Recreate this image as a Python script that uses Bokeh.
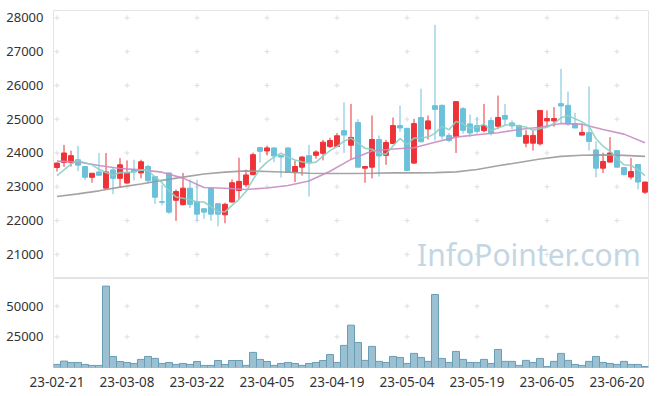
import numpy as np
from bokeh.plotting import figure
from bokeh.models import ColumnDataSource, FixedTicker, Label, Range1d
from bokeh.layouts import column
from bokeh.embed import file_html
from bokeh.resources import INLINE

dates = ["23-02-21", "23-02-22", "23-02-23", "23-02-24", "23-02-27", "23-02-28",
         "23-03-02", "23-03-03", "23-03-06", "23-03-07", "23-03-08", "23-03-09", "23-03-10",
         "23-03-13", "23-03-14", "23-03-15", "23-03-16", "23-03-17", "23-03-20", "23-03-21",
         "23-03-22", "23-03-23", "23-03-24", "23-03-27", "23-03-28", "23-03-29", "23-03-30",
         "23-03-31", "23-04-03", "23-04-04", "23-04-05", "23-04-06", "23-04-07", "23-04-10",
         "23-04-11", "23-04-12", "23-04-13", "23-04-14", "23-04-17", "23-04-18", "23-04-19",
         "23-04-20", "23-04-21", "23-04-24", "23-04-25", "23-04-26", "23-04-27", "23-04-28",
         "23-05-02", "23-05-03", "23-05-04", "23-05-08", "23-05-09", "23-05-10", "23-05-11",
         "23-05-12", "23-05-15", "23-05-16", "23-05-17", "23-05-18", "23-05-19", "23-05-22",
         "23-05-23", "23-05-24", "23-05-25", "23-05-26", "23-05-30", "23-05-31", "23-06-01",
         "23-06-02", "23-06-05", "23-06-07", "23-06-08", "23-06-09", "23-06-12", "23-06-13",
         "23-06-14", "23-06-15", "23-06-16", "23-06-19", "23-06-20", "23-06-21", "23-06-22",
         "23-06-23", "23-06-26"]

opens = [23570, 23720, 23720, 23800, 23600, 23280, 23440, 22960, 23500, 23250,
         23110, 23500, 23410, 23600, 23300, 22560, 23410, 22600, 22470, 22960,
         22560, 22350, 22950, 22500, 22170, 22550, 22890, 23060, 23360, 24160,
         24060, 24150, 23920, 24150, 23430, 23580, 23920, 23930, 23990, 24190,
         24190, 24660, 24230, 24900, 23550, 23580, 24400, 23930, 24280, 24810,
         24730, 23700, 25050, 24710, 25400, 25410, 24520, 24490, 25310, 24860,
         24810, 24660, 24960, 24790, 25110, 24890, 24810, 24290, 24290, 24270,
         24950, 24950, 25460, 25410, 24860, 24530, 24600, 24090, 23550, 23730,
         24070, 23570, 23290, 23660, 22840]
highs = [23720, 24240, 24070, 24210, 23600, 23410, 24000, 24000, 23550, 23850,
         23780, 23800, 23800, 23650, 23300, 23060, 23420, 22920, 23410, 23220,
         23210, 22350, 22960, 22500, 22530, 23220, 23860, 23510, 24010, 24170,
         24220, 24160, 23930, 24160, 23780, 23900, 24240, 24080, 24390, 24450,
         24590, 25500, 25450, 25000, 23610, 25110, 24520, 24390, 25050, 25400,
         24740, 25010, 25900, 25110, 27790, 25430, 24590, 25530, 25360, 25140,
         25060, 25450, 25060, 25700, 25450, 24960, 24840, 24670, 24670, 25270,
         25260, 25360, 26490, 25820, 25190, 24860, 25970, 24340, 24010, 24470,
         24080, 23570, 23850, 23660, 23150]
lows = [23450, 23590, 23600, 23460, 23200, 23120, 23330, 22930, 22780, 22980,
        23090, 23190, 23250, 23100, 22490, 22450, 22200, 21990, 22450, 22370,
        21990, 22050, 21990, 21830, 21920, 22530, 22640, 22990, 23340, 23720,
        23930, 23730, 23270, 23420, 23140, 23330, 22710, 23830, 23780, 24150,
        24180, 24000, 23810, 23570, 23120, 23250, 23300, 23650, 24270, 24620,
        23470, 23680, 24320, 24400, 24370, 24400, 24320, 24000, 24570, 24470,
        24570, 24610, 24520, 24710, 24810, 24700, 24480, 24170, 24070, 24220,
        24760, 24780, 24860, 24800, 24730, 24520, 24070, 23280, 23410, 23720,
        23570, 23340, 23220, 22920, 22790]
closes = [23700, 24000, 23920, 23640, 23280, 23400, 23340, 23440, 23250, 23650,
          23420, 23440, 23740, 23180, 22690, 22540, 22250, 22860, 22960, 22480,
          22190, 22250, 22190, 22190, 22480, 23120, 23160, 23350, 23950, 24050,
          24150, 23910, 23880, 23430, 23600, 23880, 23730, 24030, 24320, 24370,
          24510, 24530, 24460, 23580, 23600, 24400, 23910, 24310, 24810, 24740,
          23480, 24870, 24330, 24950, 25290, 24500, 24370, 25520, 24670, 24590,
          24640, 24810, 24590, 25050, 25000, 24800, 24490, 24520, 24520, 25260,
          25020, 25020, 25390, 24860, 24740, 24610, 24340, 23550, 23750, 24000,
          23580, 23360, 23450, 23140, 23140]
volumes = [2500, 5200, 4100, 4100, 2500, 1700, 1700, 66300, 9000, 4900,
           4100, 3300, 6600, 9000, 7400, 3300, 4100, 2500, 3300, 2500,
           4900, 1700, 1700, 5700, 2500, 5700, 5700, 1700, 12300, 6600,
           4900, 1700, 3300, 4100, 3300, 1700, 3300, 4100, 5700, 10600,
           4100, 18000, 34500, 20400, 5800, 17200, 5000, 4100, 9000, 8200,
           3300, 11500, 8200, 5000, 59500, 7400, 4100, 13100, 6600, 4100,
           4100, 6600, 3300, 14700, 5000, 5000, 1700, 5800, 4100, 7400,
           800, 5000, 11500, 5800, 2500, 1700, 5000, 9000, 4100, 3300,
           2500, 5000, 2500, 2500, 800]
ma5 = [23330, 23500, 23670, 23770, 23710, 23650, 23520, 23420, 23340, 23420,
       23420, 23440, 23500, 23490, 23290, 23120, 22880, 22700, 22660, 22620,
       22550, 22550, 22410, 22260, 22260, 22450, 22630, 22860, 23210, 23530,
       23730, 23880, 23990, 23880, 23790, 23740, 23700, 23730, 23910, 24070,
       24190, 24350, 24440, 24290, 24140, 24110, 23990, 23960, 24210, 24430,
       24250, 24440, 24450, 24470, 24580, 24790, 24690, 24930, 24870, 24730,
       24760, 24850, 24660, 24740, 24820, 24850, 24790, 24770, 24670, 24720,
       24760, 24870, 25040, 25110, 25010, 24920, 24790, 24420, 24200, 24050,
       23840, 23650, 23630, 23510, 23330]
# MA20 / MA60 read every 3 sessions
ma_idx = list(range(0, 85, 3))
ma20 = [23760, 23735, 23630, 23540, 23500, 23433, 23256, 22980, 22955, 22920,
        22965, 23040, 23170, 23460, 23810, 24060, 24120, 24155, 24320, 24469,
        24538, 24597, 24696, 24760, 24870, 24853, 24696, 24558, 24301]
ma60 = [22710, 22790, 22880, 22990, 23080, 23190, 23285, 23380, 23433, 23470,
        23450, 23430, 23400, 23395, 23395, 23400, 23410, 23410, 23420, 23440,
        23510, 23620, 23720, 23820, 23900, 23935, 23945, 23930, 23900]

tick_idx = [0, 10, 20, 30, 40, 50, 60, 70, 80]
price_ticks = [21000, 22000, 23000, 24000, 25000, 26000, 27000, 28000]
vol_ticks = [25000, 50000]

RED = "#ee3338"
BLUE = "#6cc1da"
FONT = "Noto Sans"
TXT = "#333333"
BORDER = "#e4e4e4"

n = len(closes)
idx = list(range(n))
o = np.array(opens); c = np.array(closes)
src = ColumnDataSource(dict(
    x=idx, high=highs, low=lows,
    top=np.maximum(o, c), bottom=np.minimum(o, c),
    color=[RED if cc >= oo else BLUE for oo, cc in zip(opens, closes)],
))

xr = Range1d(-0.5, 84.5)

p = figure(width=653, height=278, x_range=xr, y_range=Range1d(20286, 28216),
           output_backend="svg", toolbar_location=None,
           min_border_left=53, min_border_right=5, min_border_top=10, min_border_bottom=0)
p.xaxis.visible = False
p.grid.visible = False
p.outline_line_color = BORDER
p.background_fill_color = "white"

gx, gy = np.meshgrid(tick_idx, price_ticks)
p.scatter(gx.ravel(), gy.ravel(), marker="cross", size=5, line_color="#dedede", line_width=1)

p.add_layout(Label(x=83.4, y=20990, text="InfoPointer.com", text_align="right",
                   text_baseline="alphabetic", text_font=FONT, text_font_size="30px",
                   text_color="#c3d6e4"))

p.segment(x0="x", y0="low", x1="x", y1="high", line_color="color", line_width=1, source=src)
p.vbar(x="x", top="top", bottom="bottom", width=0.7, fill_color="color", line_color="color", source=src)

p.line(ma_idx, ma60, line_color="#9a9a9a", line_width=1.6, line_alpha=0.9)
p.line(ma_idx, ma20, line_color="#c98cc4", line_width=1.6, line_alpha=0.9)
p.line(idx, ma5, line_color="#8ccfc3", line_width=1.6, line_alpha=0.9)

for ax in p.yaxis:
    ax.ticker = FixedTicker(ticks=price_ticks)
    ax.axis_line_color = None
    ax.major_tick_line_color = None
    ax.minor_tick_line_color = None
    ax.major_label_standoff = 4
    ax.major_label_text_font = FONT
    ax.major_label_text_font_size = "13px"
    ax.major_label_text_color = TXT

v = figure(width=653, height=117, x_range=xr, y_range=Range1d(0, 72500),
           output_backend="svg", toolbar_location=None,
           min_border_left=53, min_border_right=5, min_border_top=0, min_border_bottom=28)
v.grid.visible = False
v.outline_line_color = BORDER
vx, vy = np.meshgrid(tick_idx, vol_ticks)
v.scatter(vx.ravel(), vy.ravel(), marker="cross", size=5, line_color="#dedede", line_width=1)
v.vbar(x=idx, top=volumes, width=1.0, fill_color="#9bc0d1", line_color="#6a9db6", line_width=1)

for ax in v.yaxis:
    ax.ticker = FixedTicker(ticks=vol_ticks)
    ax.axis_line_color = None
    ax.major_tick_line_color = None
    ax.minor_tick_line_color = None
    ax.major_label_standoff = 4
    ax.major_label_text_font = FONT
    ax.major_label_text_font_size = "13px"
    ax.major_label_text_color = TXT
for ax in v.xaxis:
    ax.ticker = FixedTicker(ticks=tick_idx)
    ax.major_label_overrides = {i: dates[i] for i in tick_idx}
    ax.axis_line_color = None
    ax.major_tick_line_color = None
    ax.minor_tick_line_color = None
    ax.major_label_standoff = 3
    ax.major_label_text_font = FONT
    ax.major_label_text_font_size = "13.5px"
    ax.major_label_text_color = TXT

layout = column(p, v, spacing=0)
open("out.html", "w").write(file_html(layout, INLINE))
